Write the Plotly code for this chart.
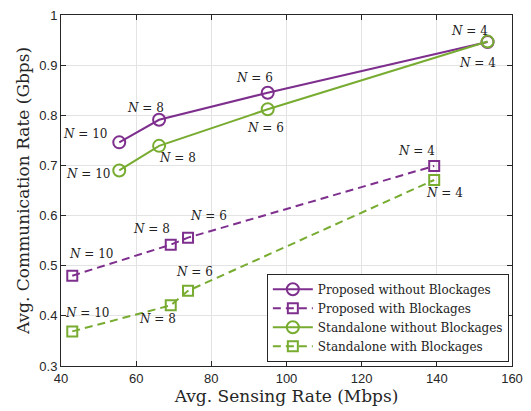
import plotly.graph_objects as go

# Data
n_labels = ["N = 10", "N = 8", "N = 6", "N = 4"]
sens_no_block = [55.5, 66.1, 95.0, 153.5]
prop_no_block = [0.746, 0.791, 0.845, 0.946]
stand_no_block = [0.690, 0.739, 0.812, 0.947]
sens_block = [43.0, 69.2, 73.8, 139.3]
prop_block = [0.480, 0.542, 0.556, 0.699]
stand_block = [0.369, 0.421, 0.450, 0.671]

series_names = ["Proposed without Blockages", "Proposed with Blockages",
                "Standalone without Blockages", "Standalone with Blockages"]

PURPLE = "#7E2F8E"
GREEN = "#77AC30"
SERIF = "DejaVu Serif"

# label offsets (pixels) per series / point
offsets = [
    [(-34, 8), (-14, 12), (-13, 15), (-18, 11)],
    [(19, 22), (-19, 16), (20, 22), (-18, 15)],
    [(-31, -4), (18, -12), (-2, -19), (-10, -21)],
    [(15, 18), (-13, -14), (6, 19), (10, -13)],
]

series = [
    (sens_no_block, prop_no_block, PURPLE, "solid", "circle-open", 12),
    (sens_block, prop_block, PURPLE, "8px,5px", "square-open", 10),
    (sens_no_block, stand_no_block, GREEN, "solid", "circle-open", 12),
    (sens_block, stand_block, GREEN, "8px,5px", "square-open", 10),
]

fig = go.Figure()
annotations = []
for (xs, ys, col, dash, sym, msz), name, offs in zip(series, series_names, offsets):
    fig.add_trace(go.Scatter(
        x=xs, y=ys, name=name, mode="lines+markers",
        line=dict(color=col, width=2, dash=dash),
        marker=dict(symbol=sym, size=msz, color=col, line=dict(width=2, color=col)),
    ))
    for xv, yv, lab, (dx, dy) in zip(xs, ys, n_labels, offs):
        annotations.append(dict(
            x=xv, y=yv, xref="x", yref="y", showarrow=False,
            text=lab.replace("N", "<i>N</i>"), xshift=dx, yshift=dy,
            font=dict(family=SERIF, size=12, color="#222222"),
        ))

axis_common = dict(
    showline=True, linecolor="#262626", linewidth=1, mirror="allticks",
    ticks="inside", ticklen=5, tickcolor="#262626",
    showgrid=True, gridcolor="#e3e3e3", gridwidth=1, zeroline=False,
    tickfont=dict(family="Liberation Sans", size=13, color="#262626"),
)

fig.update_layout(
    width=531, height=411,
    margin=dict(l=61, r=14, t=8, b=45),
    paper_bgcolor="white", plot_bgcolor="white",
    xaxis=dict(range=[40, 160], dtick=20,
               title=dict(text="Avg. Sensing Rate (Mbps)", standoff=3,
                          font=dict(family=SERIF, size=17, color="#262626")),
               **axis_common),
    yaxis=dict(range=[0.3, 1.0], dtick=0.1, tickformat="~g",
               title=dict(text="Avg. Communication Rate (Gbps)", standoff=5,
                          font=dict(family=SERIF, size=17, color="#262626")),
               **axis_common),
    legend=dict(x=0.993, y=0.012, xanchor="right", yanchor="bottom",
                bgcolor="white", bordercolor="#262626", borderwidth=1,
                font=dict(family=SERIF, size=12, color="#222222"),
                itemwidth=40, tracegroupgap=0),
    annotations=annotations,
    showlegend=True,
)

fig.write_html("out.html")
